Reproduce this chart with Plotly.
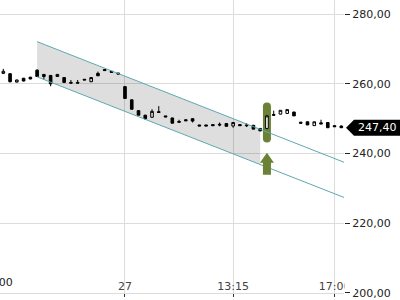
import plotly.graph_objects as go

# ---- candle data (15-min candles, index positions) ----
idx = list(range(51))
open_ = [263.0, 262.9, 260.5, 261.6, 261.9, 263.9, 262.7, 262.4, 262.1, 261.8,
         260.4, 260.4, 261.3, 260.6, 263.0, 264.1, 263.6, 263.1, 259.2, 255.4,
         252.3, 251.0, 250.4, 252.0, 250.8, 250.2, 249.2, 249.7, 250.0, 248.2,
         248.2, 248.3, 248.4, 248.6, 247.9, 248.3, 248.2, 248.1, 247.2, 247.2,
         251.2, 251.3, 251.5, 251.9, 249.0, 249.1, 248.0, 248.8, 248.9, 248.0,
         247.9]
high = [264.3, 263.1, 261.2, 261.7, 262.0, 264.2, 262.8, 262.5, 262.8, 261.9,
        261.1, 261.1, 261.3, 261.9, 263.5, 264.1, 263.6, 263.1, 259.3, 255.5,
        252.4, 251.1, 252.7, 253.6, 250.8, 250.3, 249.7, 249.7, 250.1, 248.2,
        248.2, 248.3, 248.9, 248.7, 248.9, 248.3, 248.7, 248.2, 247.2, 251.0,
        252.3, 252.4, 252.6, 252.0, 249.0, 249.2, 249.1, 249.7, 249.0, 248.0,
        248.0]
low = [262.8, 260.4, 260.4, 260.7, 261.3, 262.0, 261.2, 259.3, 262.0, 260.3,
       260.2, 260.2, 261.1, 260.5, 262.3, 263.8, 263.3, 262.8, 255.8, 252.7,
       251.0, 249.6, 250.3, 251.8, 250.5, 248.7, 249.0, 249.4, 248.9, 247.9,
       247.9, 248.0, 247.8, 247.7, 247.4, 248.0, 247.6, 247.0, 246.4, 247.0,
       251.0, 251.2, 251.4, 250.8, 248.7, 248.2, 247.9, 248.5, 247.4, 247.7,
       247.4]
close = [263.6, 260.6, 261.1, 260.8, 261.4, 262.1, 262.1, 260.0, 262.7, 260.4,
         260.2, 260.2, 261.1, 261.8, 262.3, 263.8, 263.3, 262.8, 255.8, 252.7,
         251.0, 250.0, 252.1, 251.8, 250.5, 248.7, 249.0, 249.4, 249.3, 247.9,
         247.9, 248.0, 248.2, 247.8, 248.9, 248.0, 248.0, 247.0, 246.5, 250.8,
         251.0, 252.4, 252.6, 250.8, 248.7, 248.2, 249.1, 248.5, 247.4, 247.7,
         247.4]

# x tick positions / labels
tick_pos = [18, 34, 49]
tick_text = ["27", "13:15", "17:00"]
prev_tick_pos = -1
prev_tick_text = "16:00"

# axis ranges
x_range = [-0.49, 50.4]
y_range = [199.98, 284.05]
y_ticks = [200, 220, 240, 260, 280]

# trend channel
channel_x = [5, 50.4]
channel_upper = [272.1, 237.5]
channel_lower = [262.0, 227.4]
fill_x = [5, 38]
fill_upper = [272.1, 246.95]
fill_lower = [262.0, 236.85]

# signal
signal_idx = 39
signal_box_center = 248.9
signal_arrow_tip = 240.2

last_price = 247.40

GRID = "#dcdcdc"
TEAL = "#5aaab0"
GREEN = "#6a8136"

fig = go.Figure()

fig.add_trace(go.Scatter(
    x=fill_x + fill_x[::-1], y=fill_upper + fill_lower[::-1],
    fill="toself", fillcolor="rgba(0,0,0,0.13)", line=dict(width=0),
    mode="lines", hoverinfo="skip"))
fig.add_trace(go.Scatter(x=channel_x, y=channel_upper, mode="lines",
                         line=dict(color=TEAL, width=1)))
fig.add_trace(go.Scatter(x=channel_x, y=channel_lower, mode="lines",
                         line=dict(color=TEAL, width=1)))

fig.add_trace(go.Candlestick(
    x=idx, open=open_, high=high, low=low, close=close,
    increasing=dict(line=dict(color="black", width=1), fillcolor="white"),
    decreasing=dict(line=dict(color="black", width=1), fillcolor="black"),
    whiskerwidth=0))

# green capsule around signal candle
fig.add_shape(type="path", xref="x", yref="y", xsizemode="pixel", ysizemode="pixel",
              xanchor=signal_idx, yanchor=signal_box_center,
              path="M -4,16 Q -4,20 0,20 Q 4,20 4,16 L 4,-16 Q 4,-20 0,-20 Q -4,-20 -4,-16 Z",
              fillcolor=GREEN, line=dict(width=0), layer="below")
# green up arrow
fig.add_shape(type="path", xref="x", yref="y", xsizemode="pixel", ysizemode="pixel",
              xanchor=signal_idx, yanchor=signal_arrow_tip,
              path="M 0,0 L 7,-10 L 4,-10 L 4,-22 L -4,-22 L -4,-10 L -7,-10 Z",
              fillcolor=GREEN, line=dict(width=0), layer="above")
# price tag
fig.add_shape(type="path", xref="paper", yref="y", xsizemode="pixel", ysizemode="pixel",
              xanchor=1, yanchor=last_price,
              path="M 2,0 L 10,8 L 56,8 L 56,-8 L 10,-8 Z",
              fillcolor="black", line=dict(width=0), layer="above")
# clip of the overflowing last x label
fig.add_shape(type="path", xref="paper", yref="paper", xsizemode="pixel", ysizemode="pixel",
              xanchor=1, yanchor=0,
              path="M 0.5,2 L 11,2 L 11,16 L 0.5,16 Z",
              fillcolor="white", line=dict(width=0), layer="above")

fig.add_annotation(x=1, xref="paper", y=last_price, yref="y", xanchor="left",
                   xshift=12, text=f"{last_price:.2f}".replace(".", ","), showarrow=False,
                   font=dict(color="white", size=11, family="DejaVu Sans"))
# partially visible label of the previous day's tick (left of the plotted range)
prev_paper = (prev_tick_pos - x_range[0]) / (x_range[1] - x_range[0])
fig.add_annotation(x=prev_paper, xref="paper", xanchor="center", y=0, yref="paper",
                   yanchor="bottom", yshift=2, text=prev_tick_text, showarrow=False,
                   font=dict(color="#222", size=11, family="DejaVu Sans"))

fig.update_layout(
    width=400, height=300,
    margin=dict(l=0, r=56, t=0, b=5),
    plot_bgcolor="white", paper_bgcolor="white",
    showlegend=False, boxgap=0.45, separators=",.",
    font=dict(family="DejaVu Sans", size=11, color="#222"),
    xaxis=dict(range=x_range, tickvals=tick_pos, ticktext=tick_text,
               showgrid=True, gridcolor=GRID, ticks="outside", ticklen=3,
               tickcolor="#333", ticklabelposition="inside",
               ticklabeloverflow="allow",
               showline=True, linecolor=GRID, zeroline=False,
               rangeslider=dict(visible=False)),
    yaxis=dict(side="right", range=y_range, tickvals=y_ticks,
               tickformat=".2f", ticks="outside", ticklen=5, tickcolor="#222",
               ticklabeloverflow="allow",
               showgrid=True, gridcolor=GRID, zeroline=False),
)

fig.write_html("out.html")
